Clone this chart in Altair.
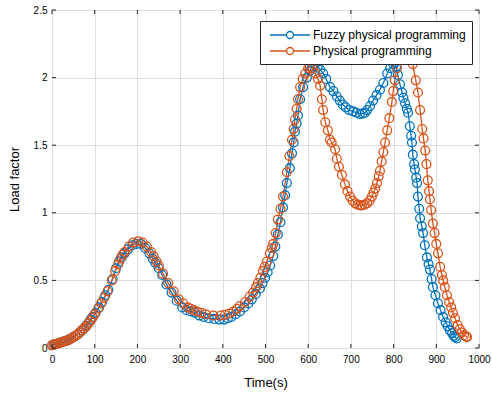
import altair as alt
import pandas as pd

# ---- data ----
fuzzy_t = [0, 5, 10, 15, 20, 25, 30, 35, 40, 45, 50, 55, 60, 65, 70, 75, 80, 85, 90, 95,
           102, 110, 117, 125, 132, 142, 150, 157, 163, 170, 178, 188, 198, 208, 218, 228,
           236, 242, 250, 258, 268, 280, 292, 305, 315, 325, 335, 345, 355, 367, 380, 392,
           403, 412, 420, 430, 440, 450, 460, 468, 477, 487, 493, 499, 505, 511, 518, 523,
           529, 535, 541, 546, 550, 557, 562, 566, 569, 573, 576, 581, 588, 597, 604, 609,
           616, 622, 628, 635, 642, 651, 659, 667, 674, 681, 688, 696, 705, 713, 721, 728,
           733, 738, 745, 752, 760, 768, 776, 785, 792, 799, 803, 806, 810, 815, 820, 823,
           827, 831, 834, 838, 841, 843, 845, 848, 850, 853, 855, 857, 860, 862, 866, 869,
           873, 878, 882, 885, 889, 892, 898, 904, 910, 916, 922, 927, 932, 937, 941, 944, 948]
fuzzy_y = [0.02, 0.025, 0.03, 0.035, 0.04, 0.045, 0.05, 0.055, 0.065, 0.07, 0.08, 0.09, 0.10,
           0.115, 0.13, 0.145, 0.165, 0.185, 0.21, 0.23, 0.26, 0.30, 0.34, 0.39, 0.43, 0.51,
           0.59, 0.64, 0.67, 0.70, 0.73, 0.76, 0.77, 0.77, 0.74, 0.70, 0.66, 0.63, 0.59, 0.54,
           0.47, 0.41, 0.35, 0.30, 0.28, 0.27, 0.26, 0.24, 0.23, 0.22, 0.215, 0.21, 0.21, 0.22,
           0.23, 0.25, 0.27, 0.30, 0.33, 0.36, 0.40, 0.44, 0.48, 0.52, 0.56, 0.61, 0.68, 0.75,
           0.84, 0.93, 1.04, 1.13, 1.22, 1.33, 1.44, 1.52, 1.60, 1.66, 1.72, 1.84, 1.93, 2.00,
           2.05, 2.08, 2.10, 2.08, 2.06, 2.03, 1.99, 1.93, 1.90, 1.86, 1.83, 1.80, 1.78, 1.76,
           1.75, 1.74, 1.73, 1.735, 1.74, 1.76, 1.79, 1.83, 1.87, 1.91, 1.96, 2.03, 2.07, 2.10,
           2.11, 2.08, 2.02, 1.95, 1.89, 1.85, 1.81, 1.77, 1.74, 1.64, 1.57, 1.52, 1.43, 1.36,
           1.32, 1.26, 1.22, 1.12, 1.03, 0.96, 0.90, 0.85, 0.76, 0.67, 0.62, 0.58, 0.51, 0.45,
           0.39, 0.33, 0.28, 0.23, 0.19, 0.16, 0.13, 0.11, 0.09, 0.08, 0.07]

phys_t = [0, 4, 8, 12, 16, 20, 25, 30, 35, 40, 45, 50, 55, 60, 65, 70, 75, 80, 85, 90, 95,
          100, 108, 115, 122, 130, 140, 148, 155, 160, 165, 170, 180, 190, 202, 212, 222, 232,
          238, 245, 250, 260, 272, 285, 297, 307, 318, 325, 332, 340, 350, 360, 378, 395, 405,
          415, 425, 433, 440, 452, 463, 471, 478, 482, 488, 494, 498, 503, 510, 515, 518, 524,
          529, 535, 541, 550, 556, 562, 566, 569, 573, 576, 581, 587, 593, 600, 604, 610, 617,
          623, 628, 632, 635, 640, 646, 651, 655, 663, 667, 672, 679, 686, 692, 698, 704, 710,
          716, 722, 726, 732, 738, 744, 749, 753, 757, 761, 765, 768, 772, 776, 780, 785, 790,
          796, 799, 803, 808, 815, 825, 835, 845, 852, 857, 862, 867, 870, 874, 877, 880, 883,
          885, 888, 892, 896, 900, 904, 909, 913, 916, 920, 925, 930, 935, 939, 944, 950, 955,
          960, 965, 970, 972]
phys_y = [0.02, 0.025, 0.03, 0.03, 0.035, 0.04, 0.045, 0.05, 0.055, 0.06, 0.07, 0.08, 0.09,
          0.10, 0.115, 0.13, 0.145, 0.16, 0.18, 0.20, 0.225, 0.25, 0.29, 0.33, 0.37, 0.42, 0.50,
          0.57, 0.62, 0.66, 0.69, 0.71, 0.75, 0.78, 0.79, 0.78, 0.75, 0.71, 0.68, 0.64, 0.61,
          0.55, 0.48, 0.42, 0.36, 0.33, 0.30, 0.29, 0.28, 0.27, 0.26, 0.25, 0.24, 0.24, 0.245,
          0.255, 0.27, 0.29, 0.31, 0.34, 0.38, 0.41, 0.45, 0.48, 0.52, 0.57, 0.60, 0.64, 0.70,
          0.74, 0.77, 0.85, 0.95, 1.03, 1.12, 1.30, 1.42, 1.54, 1.62, 1.69, 1.77, 1.84, 1.93,
          1.99, 2.03, 2.07, 2.08, 2.07, 2.03, 1.99, 1.94, 1.84, 1.76, 1.67, 1.61, 1.54, 1.52,
          1.47, 1.40, 1.34, 1.28, 1.21, 1.16, 1.12, 1.09, 1.07, 1.06, 1.055, 1.055, 1.06, 1.07,
          1.09, 1.12, 1.15, 1.18, 1.22, 1.27, 1.31, 1.38, 1.45, 1.52, 1.61, 1.70, 1.82, 1.90,
          1.98, 2.07, 2.18, 2.26, 2.22, 2.10, 1.98, 1.89, 1.76, 1.62, 1.55, 1.46, 1.36, 1.24,
          1.16, 1.10, 1.02, 0.92, 0.85, 0.77, 0.70, 0.60, 0.54, 0.50, 0.45, 0.39, 0.34, 0.30,
          0.26, 0.22, 0.17, 0.14, 0.115, 0.095, 0.085, 0.08]

series_names = ["Fuzzy physical programming", "Physical programming"]
series_colors = ["#0072BD", "#D95319"]
x_ticks = [0, 100, 200, 300, 400, 500, 600, 700, 800, 900, 1000]
y_ticks = [0, 0.5, 1, 1.5, 2, 2.5]

df = pd.concat([
    pd.DataFrame({"t": fuzzy_t, "v": fuzzy_y, "s": series_names[0], "o": range(len(fuzzy_t))}),
    pd.DataFrame({"t": phys_t, "v": phys_y, "s": series_names[1], "o": range(len(phys_t))}),
])

W, H = 427, 338
FONT = "Liberation Sans"

xscale = alt.Scale(domain=[0, 1000], nice=False)
yscale = alt.Scale(domain=[0, 2.5], nice=False)
cscale = alt.Scale(domain=series_names, range=series_colors)

xaxis = alt.Axis(values=x_ticks, format="d", title="Time(s)", grid=True, ticks=False,
                 domain=False, labelPadding=6, titlePadding=12, labelFlush=False,
                 titleFontWeight="normal", titleFontSize=13, titleFont=FONT)
yaxis = alt.Axis(values=y_ticks, format="~g", title="Load factor", grid=True, ticks=False,
                 domain=False, labelPadding=5, titlePadding=12, labelFlush=False,
                 titleFontWeight="normal", titleFontSize=13, titleFont=FONT)

# legend glyph: line with open circle in the middle (wider than the unit box)
legend_path = ("M-2.76,0H-0.48M0.48,0H2.76M0.48,0A0.48,0.48,0,1,1,-0.48,0"
               "A0.48,0.48,0,1,1,0.48,0")

base = alt.Chart(df)
line = base.mark_line(strokeWidth=1.3).encode(
    x=alt.X("t:Q", scale=xscale, axis=xaxis),
    y=alt.Y("v:Q", scale=yscale, axis=yaxis),
    color=alt.Color("s:N", scale=cscale, sort=series_names,
                    legend=alt.Legend(title=None, orient="none", legendX=208, legendY=11,
                                      symbolType=legend_path, symbolSize=210,
                                      symbolStrokeWidth=1.3, symbolOffset=16,
                                      labelOffset=15,
                                      padding=6, rowPadding=1,
                                      fillColor="white", strokeColor="#262626",
                                      labelFontSize=12, labelFont=FONT, labelColor="#000")),
    order="o:Q",
)
points = base.mark_point(filled=False, size=78, strokeWidth=1.3, opacity=1).encode(
    x="t:Q", y="v:Q", color=alt.Color("s:N", scale=cscale, sort=series_names),
)

xt = pd.DataFrame({"xt": x_ticks})
yt = pd.DataFrame({"yt": y_ticks})
tick_color = "#262626"
tb = alt.Chart(xt).mark_rule(color=tick_color, strokeWidth=1).encode(
    x="xt:Q", y=alt.value(0), y2=alt.value(4))
bb = alt.Chart(xt).mark_rule(color=tick_color, strokeWidth=1).encode(
    x="xt:Q", y=alt.value(H), y2=alt.value(H - 4))
lb = alt.Chart(yt).mark_rule(color=tick_color, strokeWidth=1).encode(
    y="yt:Q", x=alt.value(0), x2=alt.value(4))
rb = alt.Chart(yt).mark_rule(color=tick_color, strokeWidth=1).encode(
    y="yt:Q", x=alt.value(W), x2=alt.value(W - 4))

chart = alt.layer(line, points, tb, bb, lb, rb).properties(
    width=W, height=H,
    autosize=alt.AutoSizeParams(type="none"),
    padding={"left": 52, "top": 10, "right": 13, "bottom": 47},
).configure_view(
    stroke="#262626", strokeWidth=1
).configure_axis(
    gridColor="#dedede", gridWidth=1,
    labelFont=FONT, labelFontSize=12, labelColor="#262626",
    titleFont=FONT, titleFontSize=13, titleFontWeight="normal", titleColor="#262626",
).configure(background="white")

chart.save("out.html", embed_options={"renderer": "svg", "actions": False})
